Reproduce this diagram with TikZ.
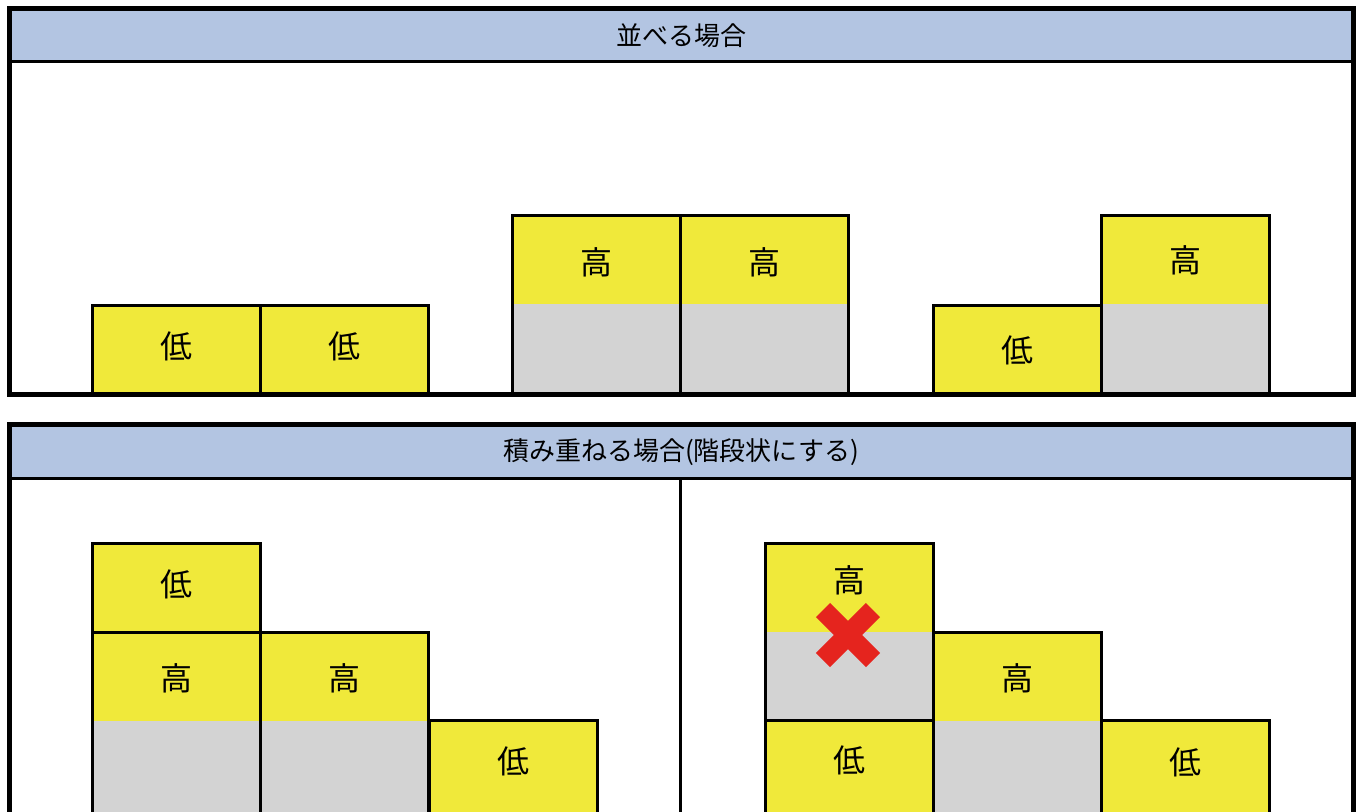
\documentclass[tikz,border=0pt]{standalone}
\usepackage{fontspec}
\newfontfamily\cjk{Noto Sans CJK JP}
\definecolor{hdrblue}{RGB}{179,197,226}
\definecolor{blkyellow}{RGB}{240,233,58}
\definecolor{blkgray}{RGB}{211,211,211}
\definecolor{crossred}{RGB}{229,36,30}
\tikzset{
panel/.style={line width=3.75pt},
blk/.style={draw, line width=2.25pt},
lbl/.style={font=\cjk\fontsize{24}{24}\selectfont, inner sep=0pt},
ttl/.style={font=\cjk\fontsize{19.5}{20}\selectfont, inner sep=0pt},
}
\begin{document}
\begin{tikzpicture}[x=0.75pt,y=-0.75pt]
\useasboundingbox (0,0) rectangle (1361,811);
\clip (0,0) rectangle (1361,811);

% top panel
\fill[hdrblue] (9,8) rectangle (1353,61);
\draw[line width=2.25pt] (9,61)--(1353,61);
\node[ttl] (head1) at (681,36) {並べる場合};

% bottom panel
\fill[hdrblue] (9,424) rectangle (1353,478);
\draw[line width=2.25pt] (9,478)--(1353,478);
\draw[line width=2.25pt] (680,478)--(680,815);
\node[ttl] (head2) at (681,452) {積み重ねる場合(階段状にする)};

% tall blocks (x/top/bottom/label y)
\foreach \x/\y/\b/\ly in {512/215/394/262,680/215/394/262,1101/215/394/260,
 92/632/818/678,260/632/818/678,933/632/818/678,765/543/720/580}{
\fill[blkyellow] (\x,\y) rectangle (\x+168,\y+89);
\fill[blkgray] (\x,\y+89) rectangle (\x+168,\b);
\draw[blk] (\x,\y) rectangle (\x+168,\b);
\node[lbl] (hi-\x-\y) at (\x+84,\ly) {高};
}

% low blocks
\foreach \x/\y/\b/\ly in {92/305/394/346,260/305/394/346,933/305/394/350,
 92/543/632/584,429/720/818/761,765/720/818/760,1101/720/818/762}{
\fill[blkyellow] (\x,\y) rectangle (\x+168,\b);
\draw[blk] (\x,\y) rectangle (\x+168,\b);
\node[lbl] (lo-\x-\y) at (\x+84,\ly) {低};
}

% frames
\draw[panel] (9,8) rectangle (1353,394);
\draw[panel] (9,424) rectangle (1353,830);

% cross
\draw[crossred, line width=15pt] (823,610)--(873,660);
\draw[crossred, line width=15pt] (823,660)--(873,610);

\end{tikzpicture}
\end{document}
